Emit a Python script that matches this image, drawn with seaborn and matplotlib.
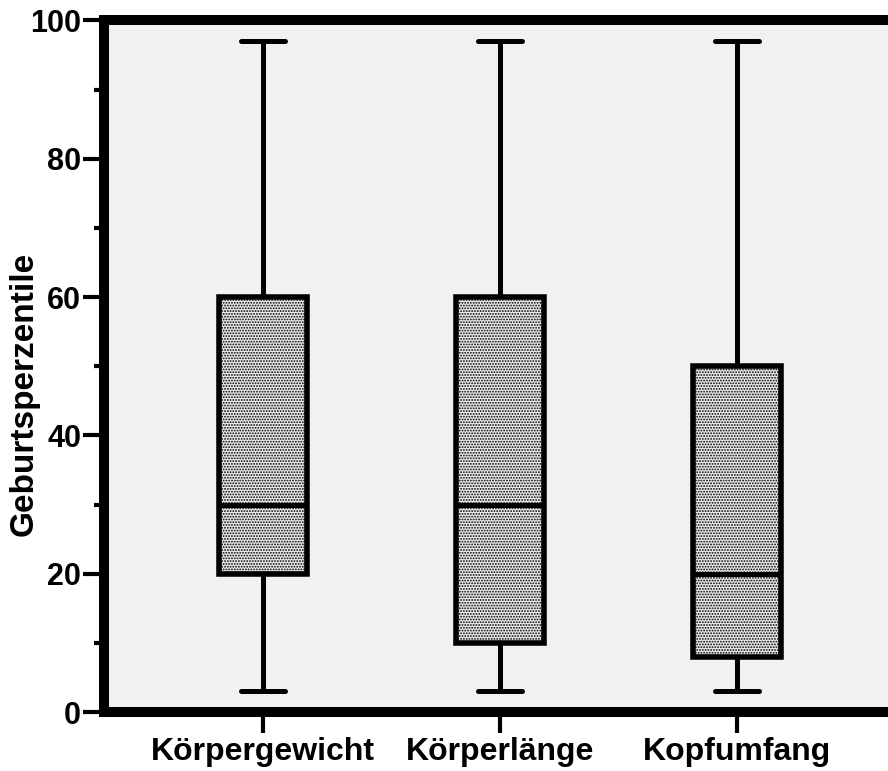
import numpy as np
import pandas as pd
import matplotlib
matplotlib.use("Agg")
import matplotlib.pyplot as plt
from matplotlib.ticker import MultipleLocator
import seaborn as sns

# Five-number summaries of the birth percentiles per measurement
categories = ["Körpergewicht", "Körperlänge", "Kopfumfang"]
minimum = [3, 3, 3]
q1 = [20, 10, 8]
median = [30, 30, 20]
q3 = [60, 60, 50]
maximum = [97, 97, 97]

rows = []
for cat, lo, a, m, b, hi in zip(categories, minimum, q1, median, q3, maximum):
    for v in (lo, a, m, b, hi):
        rows.append({"Messgröße": cat, "Geburtsperzentile": v})
df = pd.DataFrame(rows)

sns.set_style("white")
plt.rcParams["font.family"] = ["Liberation Sans", "DejaVu Sans"]
plt.rcParams["font.weight"] = "bold"
plt.rcParams["text.color"] = "black"
plt.rcParams["axes.labelcolor"] = "black"
plt.rcParams["xtick.color"] = "black"
plt.rcParams["ytick.color"] = "black"
plt.rcParams["hatch.color"] = "#b0b0b0"
plt.rcParams["hatch.linewidth"] = 0.9

fig = plt.figure(figsize=(8.88, 7.71), dpi=100)
ax = fig.add_axes([104 / 888, 59 / 771, (888 - 104) / 888, 691.5 / 771])
ax.set_facecolor("#f1f1f1")

line_w = 3.6
sns.boxplot(
    data=df, x="Messgröße", y="Geburtsperzentile", order=categories,
    whis=(0, 100), width=0.37, color="white", linecolor="black",
    linewidth=line_w, ax=ax,
)
for p in ax.patches:
    p.set_hatch("......")
    p.set_facecolor("#ececec")
    p.set_edgecolor("black")
    p.set_linewidth(line_w + 0.4)

ax.set_ylim(0, 100)
ax.set_xlim(-159 / 237, (888 - 263) / 237)
ax.yaxis.set_major_locator(MultipleLocator(20))
ax.yaxis.set_minor_locator(MultipleLocator(10))

for side in ("left", "bottom", "top"):
    ax.spines[side].set_visible(True)
    ax.spines[side].set_linewidth(7.2)
    ax.spines[side].set_color("black")
ax.spines["right"].set_visible(False)

ax.tick_params(axis="both", which="major", direction="out", length=15,
               width=3, color="black", labelcolor="black", pad=1.5,
               left=True, bottom=True)
ax.tick_params(axis="y", which="minor", direction="out", length=7, width=3,
               color="black", left=True)
ax.tick_params(axis="y", which="major", labelsize=22)
ax.tick_params(axis="x", which="major", labelsize=23, pad=3)
ax.tick_params(top=False, right=False, which="both")
for lbl in ax.get_xticklabels() + ax.get_yticklabels():
    lbl.set_fontweight("bold")
    lbl.set_color("black")

ax.set_xlabel("")
ax.set_ylabel("Geburtsperzentile", fontsize=24, fontweight="bold", color="black")
ax.yaxis.set_label_coords(-(104 - 40) / 784, 0.5 - (394 - (771 - 59 - 691.5 / 2)) / 691.5)

fig.savefig("out.png", dpi=100)
